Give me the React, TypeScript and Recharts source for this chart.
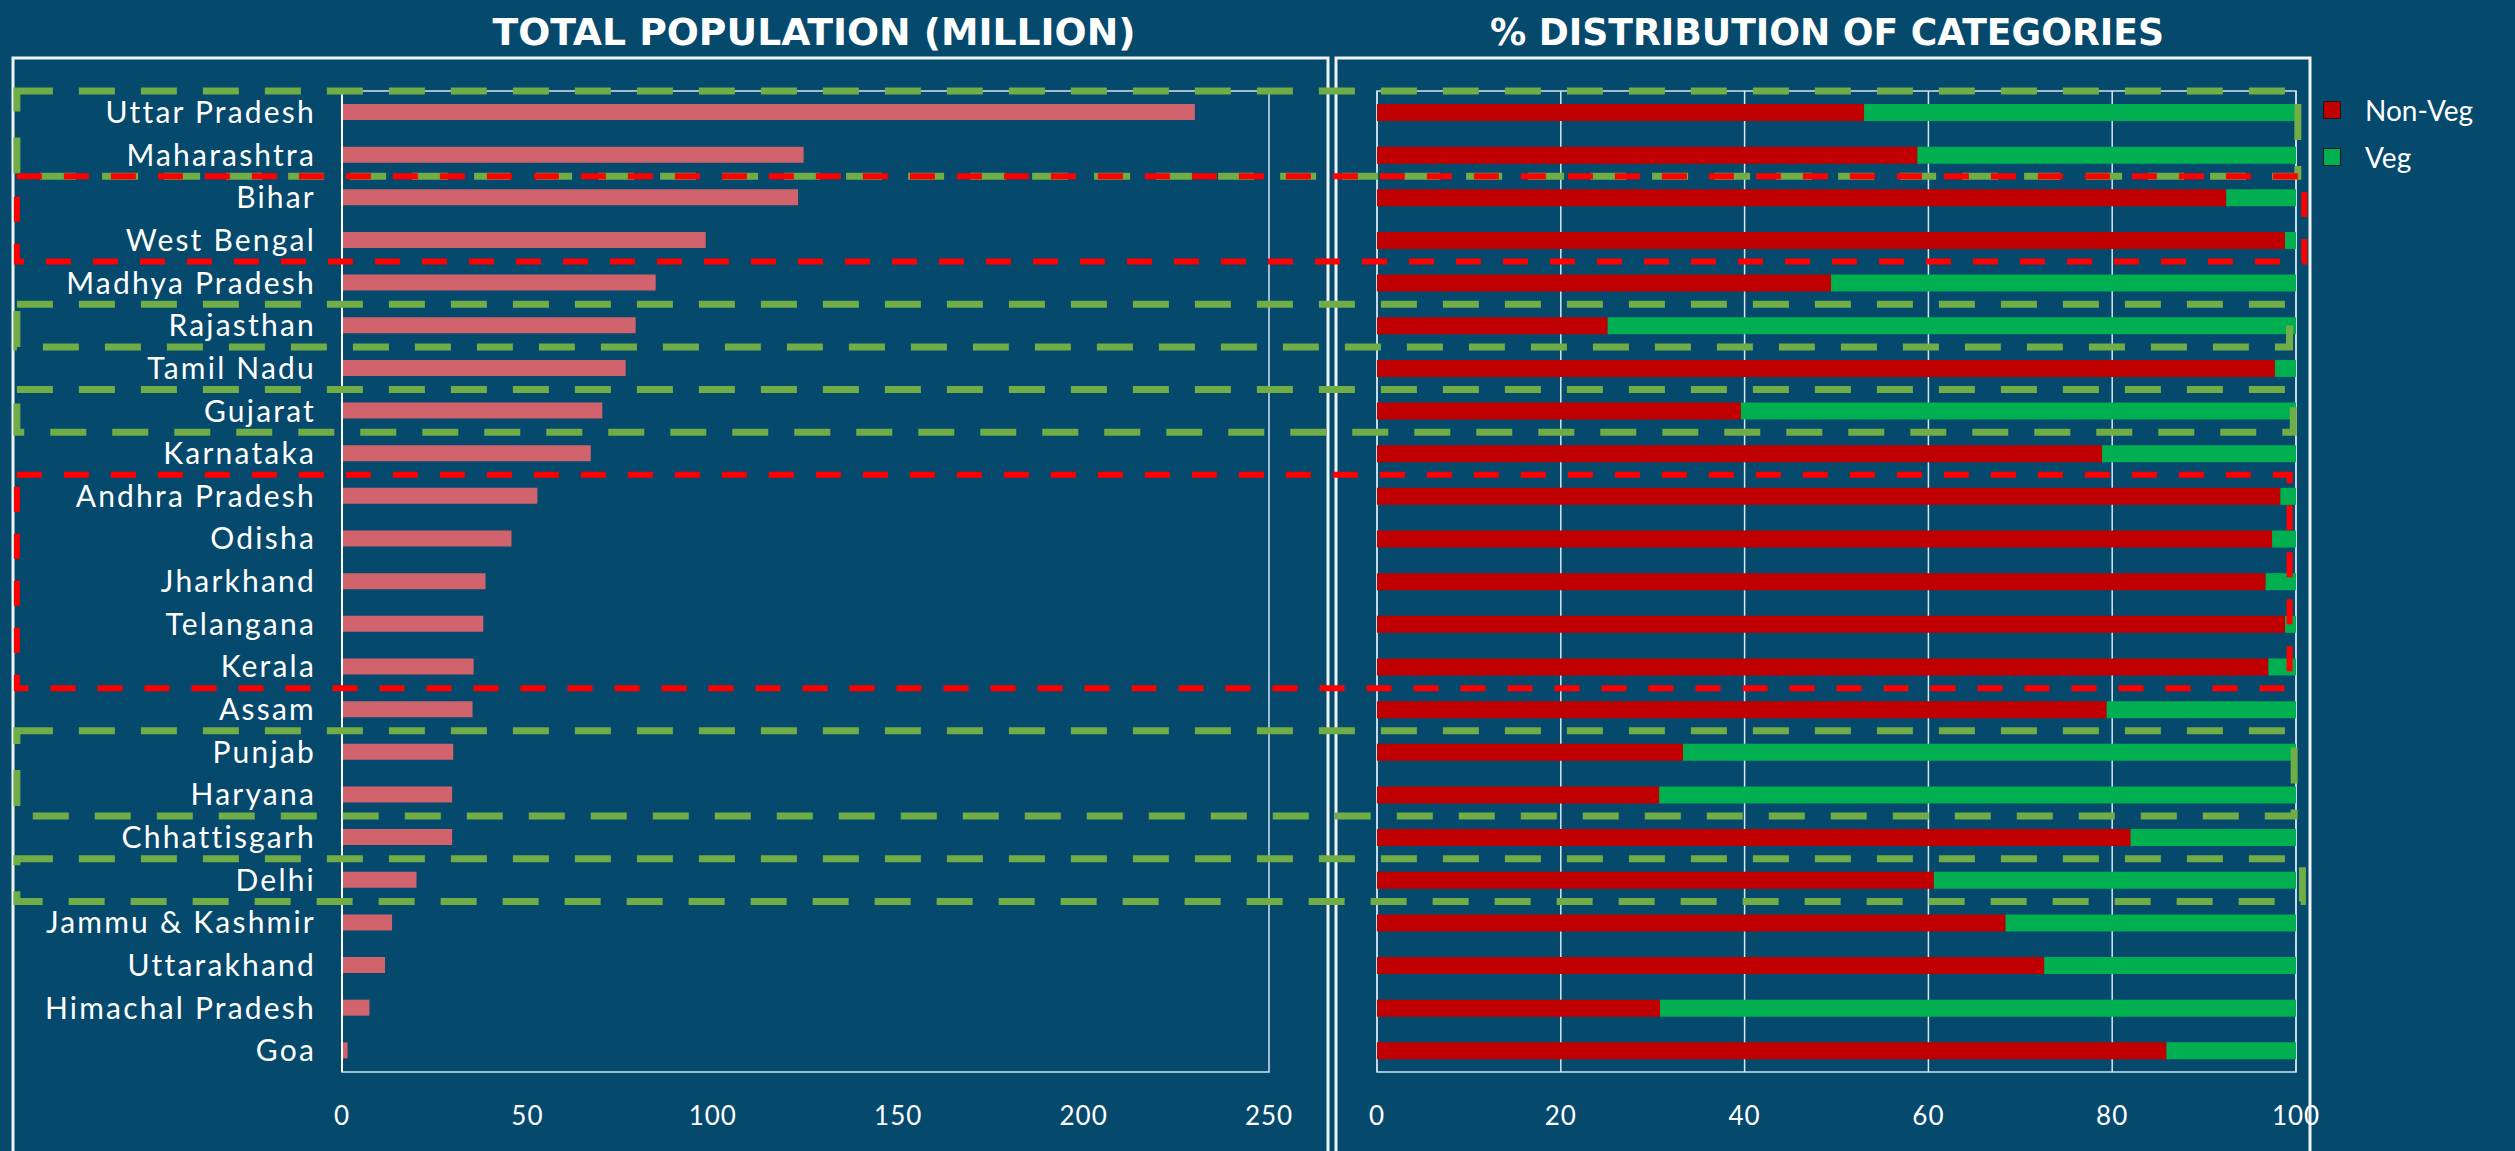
import React from "react";
import { Bar, BarChart, CartesianGrid, Legend, ReferenceArea, XAxis, YAxis } from "recharts";

const states = [
  "Uttar Pradesh", "Maharashtra", "Bihar", "West Bengal", "Madhya Pradesh", "Rajasthan",
  "Tamil Nadu", "Gujarat", "Karnataka", "Andhra Pradesh", "Odisha", "Jharkhand", "Telangana",
  "Kerala", "Assam", "Punjab", "Haryana", "Chhattisgarh", "Delhi", "Jammu & Kashmir",
  "Uttarakhand", "Himachal Pradesh", "Goa",
];
const populationMillion = [
  230, 124.5, 123, 98.1, 84.6, 79.2, 76.5, 70.2, 67.1, 52.7, 45.7, 38.7, 38.1,
  35.5, 35.2, 30, 29.7, 29.7, 20.1, 13.5, 11.6, 7.4, 1.5,
];
const nonVegShare = [
  53, 58.8, 92.4, 98.8, 49.4, 25.1, 97.7, 39.6, 78.9, 98.3, 97.4, 96.7, 98.8,
  97, 79.4, 33.3, 30.7, 82, 60.6, 68.4, 72.6, 30.8, 85.9,
];
const vegShare = [
  47, 41.2, 7.6, 1.2, 50.6, 74.9, 2.3, 60.4, 21.1, 1.7, 2.6, 3.3, 1.2,
  3, 20.6, 66.7, 69.3, 18, 39.4, 31.6, 27.4, 69.2, 14.1,
];
const populationTicks = [0, 50, 100, 150, 200, 250];
const shareTicks = [0, 20, 40, 60, 80, 100];

// dashed callout boxes spanning both panels
const boxFrom = ["Uttar Pradesh", "Bihar", "Rajasthan", "Gujarat", "Andhra Pradesh", "Punjab", "Delhi"];
const boxTo = ["Maharashtra", "West Bengal", "Rajasthan", "Gujarat", "Kerala", "Haryana", "Delhi"];
const boxKind = ["veg", "nonveg", "veg", "veg", "nonveg", "veg", "veg"];
const boxRight = [100.2, 100.9, 99.3, 99.7, 99.3, 99.8, 100.7];

const popData = states.map((state, i) => ({ state, value: populationMillion[i] }));
const shareData = states.map((state, i) => ({ state, nonVeg: nonVegShare[i], veg: vegShare[i] }));

const BG = "#05496d";
const FONT = "Lato, 'Open Sans', sans-serif";
const labelStyle = { fill: "#ffffff", fontSize: 30, fontFamily: FONT, letterSpacing: 2.2 };
const tickStyle = { fill: "#ffffff", fontSize: 26, fontFamily: FONT, letterSpacing: 1 };

function LegendContent({ payload }: any) {
  return (
    <div style={{ fontFamily: FONT }}>
      {(payload || []).map((p: any) => (
        <div key={p.value} style={{ display: "flex", alignItems: "center", height: 47 }}>
          <span
            style={{
              display: "inline-block",
              width: 16,
              height: 16,
              background: p.color,
              border: "1.5px solid #1b1b1b",
              marginRight: 24,
            }}
          />
          <span style={{ color: "#ffffff", fontSize: 28 }}>{p.value}</span>
        </div>
      ))}
    </div>
  );
}

export default function App() {
  return (
    <div style={{ position: "absolute", left: 0, top: 0, width: 2515, height: 1151, background: BG, overflow: "hidden" }}>
      <style>{`.recharts-surface{overflow:visible}`}</style>
      <svg width={2515} height={1151} style={{ position: "absolute", left: 0, top: 0 }}>
        <text x={814} y={45} textAnchor="middle" fill="#fff" fontSize={38} fontWeight="bold"
          fontFamily="'Liberation Sans Narrow', 'DejaVu Sans Condensed', sans-serif"
          textLength={643} lengthAdjust="spacingAndGlyphs">
          TOTAL POPULATION (MILLION)
        </text>
        <text x={1827} y={45} textAnchor="middle" fill="#fff" fontSize={38} fontWeight="bold"
          fontFamily="'Liberation Sans Narrow', 'DejaVu Sans Condensed', sans-serif"
          textLength={674} lengthAdjust="spacingAndGlyphs">
          % DISTRIBUTION OF CATEGORIES
        </text>
        <rect x={13} y={58} width={1315} height={1100} fill="none" stroke="#eef4f8" strokeWidth={3} />
        <rect x={1336} y={58} width={974} height={1100} fill="none" stroke="#eef4f8" strokeWidth={3} />
      </svg>

      <div style={{ position: "absolute", left: 0, top: 0 }}>
        <BarChart width={1330} height={1151} data={popData} layout="vertical"
          margin={{ top: 91, right: 61, bottom: 19, left: 0 }} barSize={16}>
          <ReferenceArea x1={0} x2={250} fill="none" stroke="#cfe2ee" strokeWidth={1.5} />
          <XAxis type="number" domain={[0, 250]} ticks={populationTicks} tick={tickStyle}
            tickLine={false} axisLine={false} tickSize={0} tickMargin={35} height={60} />
          <YAxis type="category" dataKey="state" width={342} tick={labelStyle} tickLine={false}
            tickSize={0} tickMargin={26} axisLine={{ stroke: "#ffffff", strokeWidth: 2 }} interval={0} />
          <Bar dataKey="value" name="Total population (million)" fill="#d0636c" isAnimationActive={false} />
        </BarChart>
      </div>

      <div style={{ position: "absolute", left: 1330, top: 0 }}>
        <BarChart width={1185} height={1151} data={shareData} layout="vertical"
          margin={{ top: 91, right: 219, bottom: 19, left: 47 }} barSize={17}>
          <CartesianGrid horizontal={false} stroke="#d9e7ef" strokeWidth={1.5} />
          <ReferenceArea x1={0} x2={100} fill="none" stroke="#cfe2ee" strokeWidth={1.5} />
          <XAxis type="number" domain={[0, 100]} ticks={shareTicks} tick={tickStyle}
            tickLine={false} axisLine={false} tickSize={0} tickMargin={35} height={60} />
          <YAxis type="category" dataKey="state" hide />
          <Bar dataKey="nonVeg" name="Non-Veg" stackId="share" fill="#c00000" isAnimationActive={false} />
          <Bar dataKey="veg" name="Veg" stackId="share" fill="#00b050" isAnimationActive={false} />
          <Legend layout="vertical" align="center" verticalAlign="middle" content={LegendContent}
            wrapperStyle={{ left: 993, top: 86, width: 190, height: 100 }} />
          {boxFrom.map((from, i) => (
            <ReferenceArea
              key={from}
              y1={from}
              y2={boxTo[i]}
              x1={-148}
              x2={boxRight[i]}
              ifOverflow="visible"
              fill="none"
              stroke={boxKind[i] === "veg" ? "#70ad47" : "#ff0000"}
              strokeWidth={boxKind[i] === "veg" ? 7 : 6}
              strokeDasharray={boxKind[i] === "veg" ? "36 26" : "25 22"}
              zIndex={600}
            />
          ))}
        </BarChart>
      </div>
    </div>
  );
}
